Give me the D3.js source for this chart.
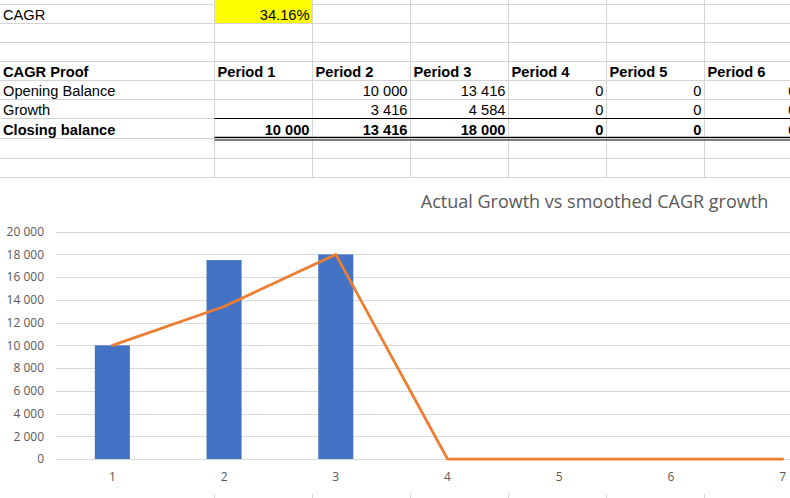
<!DOCTYPE html>
<html>
<head>
<meta charset="utf-8">
<script src="https://cdn.jsdelivr.net/npm/d3@7"></script>
<style>
  html, body { margin: 0; padding: 0; background: #fff; overflow: hidden; }
  svg { display: block; }
  .cell { font-family: Arial, "Liberation Sans", sans-serif; font-size: 14.67px; fill: #000; }
  .bold { font-weight: bold; }
  .chart text { font-family: "Segoe UI", "Open Sans", sans-serif; fill: #595959; }
</style>
</head>
<body>
<div id="sheet"></div>
<script>
// spreadsheet values
var cagrLabel = "CAGR";
var cagrValue = "34.16%";
var periods = ["Period 1", "Period 2", "Period 3", "Period 4", "Period 5", "Period 6"];
var rowLabels = ["Opening Balance", "Growth", "Closing balance"];
var openingBalance = [null, 10000, 13416, 0, 0, 0];
var growth = [null, 3416, 4584, 0, 0, 0];
var closingBalance = [10000, 13416, 18000, 0, 0, 0];

// chart values
var chartTitle = "Actual Growth vs smoothed CAGR growth";
var categories = [1, 2, 3, 4, 5, 6, 7];
var actualGrowth = [10000, 17500, 18000, 0, 0, 0, 0];
var cagrGrowth = [10000, 13416, 18000, 0, 0, 0, 0];
var yTicks = [0, 2000, 4000, 6000, 8000, 10000, 12000, 14000, 16000, 18000, 20000];

var W = 790, H = 498;
var rowEdges = [4.5, 23.5, 42.5, 61.5, 80.5, 99.5, 118.5, 138.5, 158.5, 177.5];
var colEdges = [214.5, 312.5, 410.5, 508.5, 606.5, 704.5, 799.5];
var gridColor = "#d4d4d4";

var fmt = function(v) { return d3.format(",")(v).replace(/,/g, " "); };

var svg = d3.select("#sheet").append("svg").attr("width", W).attr("height", H);

// grid lines
var grid = svg.append("g");
rowEdges.forEach(function(y) {
  grid.append("line").attr("x1", 0).attr("x2", W).attr("y1", y).attr("y2", y)
    .attr("stroke", gridColor).attr("stroke-width", 1);
});
colEdges.forEach(function(x) {
  grid.append("line").attr("x1", x).attr("x2", x).attr("y1", 0).attr("y2", H)
    .attr("stroke", gridColor).attr("stroke-width", 1);
});

// yellow CAGR cell
svg.append("rect").attr("x", colEdges[0] + 0.5).attr("y", 0)
  .attr("width", colEdges[1] - colEdges[0] - 1).attr("height", rowEdges[1] - 0.5)
  .attr("fill", "#ffff00");

// totals borders
svg.append("line").attr("x1", colEdges[0]).attr("x2", W).attr("y1", 118.5).attr("y2", 118.5)
  .attr("stroke", "#000").attr("stroke-width", 1.2);
svg.append("line").attr("x1", colEdges[0]).attr("x2", W).attr("y1", 137.3).attr("y2", 137.3)
  .attr("stroke", "#000").attr("stroke-width", 1.2);
svg.append("line").attr("x1", colEdges[0]).attr("x2", W).attr("y1", 140).attr("y2", 140)
  .attr("stroke", "#000").attr("stroke-width", 1.2);

// cell text
function cellText(txt, col, row, bold, right) {
  var x;
  if (col < 0) x = 3;
  else x = right ? colEdges[col + 1] - 3 : colEdges[col] + 3;
  svg.append("text").attr("class", "cell" + (bold ? " bold" : ""))
    .attr("x", x).attr("y", rowEdges[row + 1] - 3.5)
    .attr("text-anchor", right ? "end" : "start")
    .text(txt);
}
cellText(cagrLabel, -1, 0, false, false);
cellText(cagrValue, 0, 0, false, true);
cellText("CAGR Proof", -1, 3, true, false);
periods.forEach(function(p, i) { cellText(p, i, 3, true, false); });
cellText(rowLabels[0], -1, 4, false, false);
cellText(rowLabels[1], -1, 5, false, false);
cellText(rowLabels[2], -1, 6, true, false);
openingBalance.forEach(function(v, i) { if (v !== null) cellText(fmt(v), i, 4, false, true); });
growth.forEach(function(v, i) { if (v !== null) cellText(fmt(v), i, 5, false, true); });
closingBalance.forEach(function(v, i) { cellText(fmt(v), i, 6, true, true); });

// chart
var chart = svg.append("g").attr("class", "chart");
chart.append("rect").attr("x", 0).attr("y", 178).attr("width", W).attr("height", 315.5)
  .attr("fill", "#fff");

var x = d3.scaleBand().domain(categories).range([56.5, 838.5])
  .paddingInner(0.686).paddingOuter(0.343);
var y = d3.scaleLinear().domain([0, 20000]).range([459, 231.7]);

chart.append("text").attr("x", 594.5).attr("y", 208).attr("text-anchor", "middle")
  .style("font-size", "18px").text(chartTitle);

chart.append("g").selectAll("line").data(yTicks).join("line")
  .attr("x1", 56.5).attr("x2", 838.5)
  .attr("y1", function(d) { return Math.round(y(d)) + 0.5; })
  .attr("y2", function(d) { return Math.round(y(d)) + 0.5; })
  .attr("stroke", "#d9d9d9").attr("stroke-width", 1);

chart.append("g").selectAll("text").data(yTicks).join("text")
  .attr("x", 44).attr("y", function(d) { return y(d) + 4.3; })
  .attr("text-anchor", "end").style("font-size", "12px")
  .text(function(d) { return fmt(d); });

chart.append("g").selectAll("text").data(categories).join("text")
  .attr("x", function(d) { return x(d) + x.bandwidth() / 2; }).attr("y", 481)
  .attr("text-anchor", "middle").style("font-size", "12px")
  .text(function(d) { return d; });

chart.append("g").selectAll("rect").data(actualGrowth).join("rect")
  .attr("x", function(d, i) { return x(categories[i]); })
  .attr("width", x.bandwidth())
  .attr("y", function(d) { return y(d); })
  .attr("height", function(d) { return y(0) - y(d); })
  .attr("fill", "#4472c4");

var line = d3.line()
  .x(function(d, i) { return x(categories[i]) + x.bandwidth() / 2; })
  .y(function(d) { return y(d); });
chart.append("path").datum(cagrGrowth).attr("d", line)
  .attr("fill", "none").attr("stroke", "#ed7d31").attr("stroke-width", 2.75)
  .attr("stroke-linejoin", "round").attr("stroke-linecap", "round");
</script>
</body>
</html>
